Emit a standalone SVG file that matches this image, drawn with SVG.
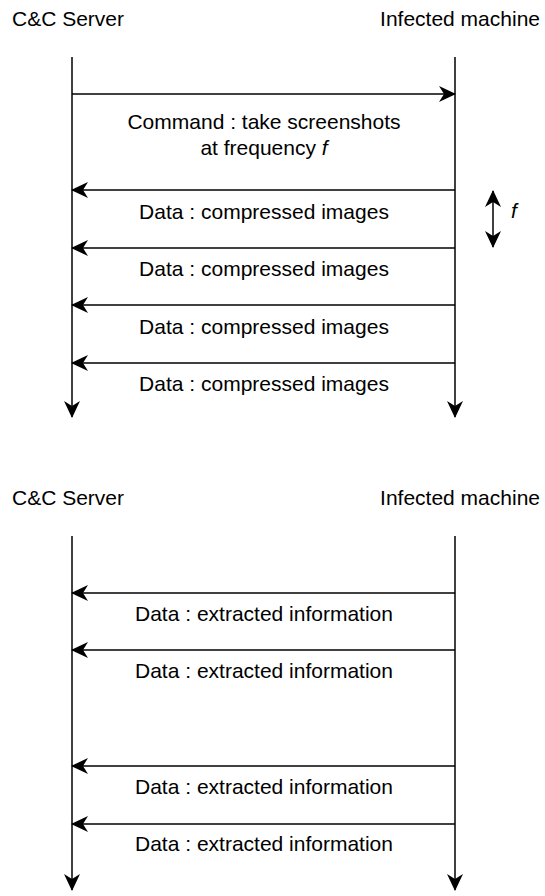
<svg xmlns="http://www.w3.org/2000/svg" width="545" height="896" viewBox="0 0 545 896">
<style>
text{font-family:"Liberation Sans",Arial,sans-serif;font-size:21px;fill:#000}
.c{text-anchor:middle}
.l{stroke:#000;stroke-width:1.5;fill:none}
</style>
<defs>
<marker id="ah" viewBox="0 0 17 16" refX="16" refY="8" markerWidth="17" markerHeight="16" markerUnits="userSpaceOnUse" orient="auto-start-reverse">
<path d="M0,0 L17,8 L0,16 L5,8 Z" fill="#000"/>
</marker>
</defs>
<g id="actor-cc-1"><text x="12" y="26">C&amp;C Server</text></g>
<g id="actor-inf-1"><text x="540" y="26" text-anchor="end">Infected machine</text></g>
<g id="actor-cc-2"><text x="12" y="505">C&amp;C Server</text></g>
<g id="actor-inf-2"><text x="540" y="505" text-anchor="end">Infected machine</text></g>
<g id="connectors">
<line class="l" x1="72" y1="57" x2="72" y2="417" marker-end="url(#ah)"/>
<line class="l" x1="455" y1="57" x2="455" y2="417" marker-end="url(#ah)"/>
<line class="l" x1="72" y1="94" x2="455" y2="94" marker-end="url(#ah)"/>
<line class="l" x1="455" y1="190" x2="72" y2="190" marker-end="url(#ah)"/>
<line class="l" x1="455" y1="248" x2="72" y2="248" marker-end="url(#ah)"/>
<line class="l" x1="455" y1="305" x2="72" y2="305" marker-end="url(#ah)"/>
<line class="l" x1="455" y1="363" x2="72" y2="363" marker-end="url(#ah)"/>
<line class="l" x1="493" y1="191" x2="493" y2="247" marker-start="url(#ah)" marker-end="url(#ah)"/>
<line class="l" x1="72" y1="536" x2="72" y2="890" marker-end="url(#ah)"/>
<line class="l" x1="455" y1="536" x2="455" y2="890" marker-end="url(#ah)"/>
<line class="l" x1="455" y1="593" x2="72" y2="593" marker-end="url(#ah)"/>
<line class="l" x1="455" y1="650" x2="72" y2="650" marker-end="url(#ah)"/>
<line class="l" x1="455" y1="766" x2="72" y2="766" marker-end="url(#ah)"/>
<line class="l" x1="455" y1="824" x2="72" y2="824" marker-end="url(#ah)"/>
</g>
<g id="labels">
<text class="c" x="264" y="129">Command : take screenshots</text>
<text class="c" x="264" y="155">at frequency <tspan font-style="italic">f</tspan></text>
<text class="c" x="264" y="219">Data : compressed images</text>
<text class="c" x="264" y="276">Data : compressed images</text>
<text class="c" x="264" y="334">Data : compressed images</text>
<text class="c" x="264" y="391">Data : compressed images</text>
<text x="511" y="218" font-style="italic">f</text>
<text class="c" x="264" y="621">Data : extracted information</text>
<text class="c" x="264" y="678">Data : extracted information</text>
<text class="c" x="264" y="794">Data : extracted information</text>
<text class="c" x="264" y="851">Data : extracted information</text>
</g>
</svg>
